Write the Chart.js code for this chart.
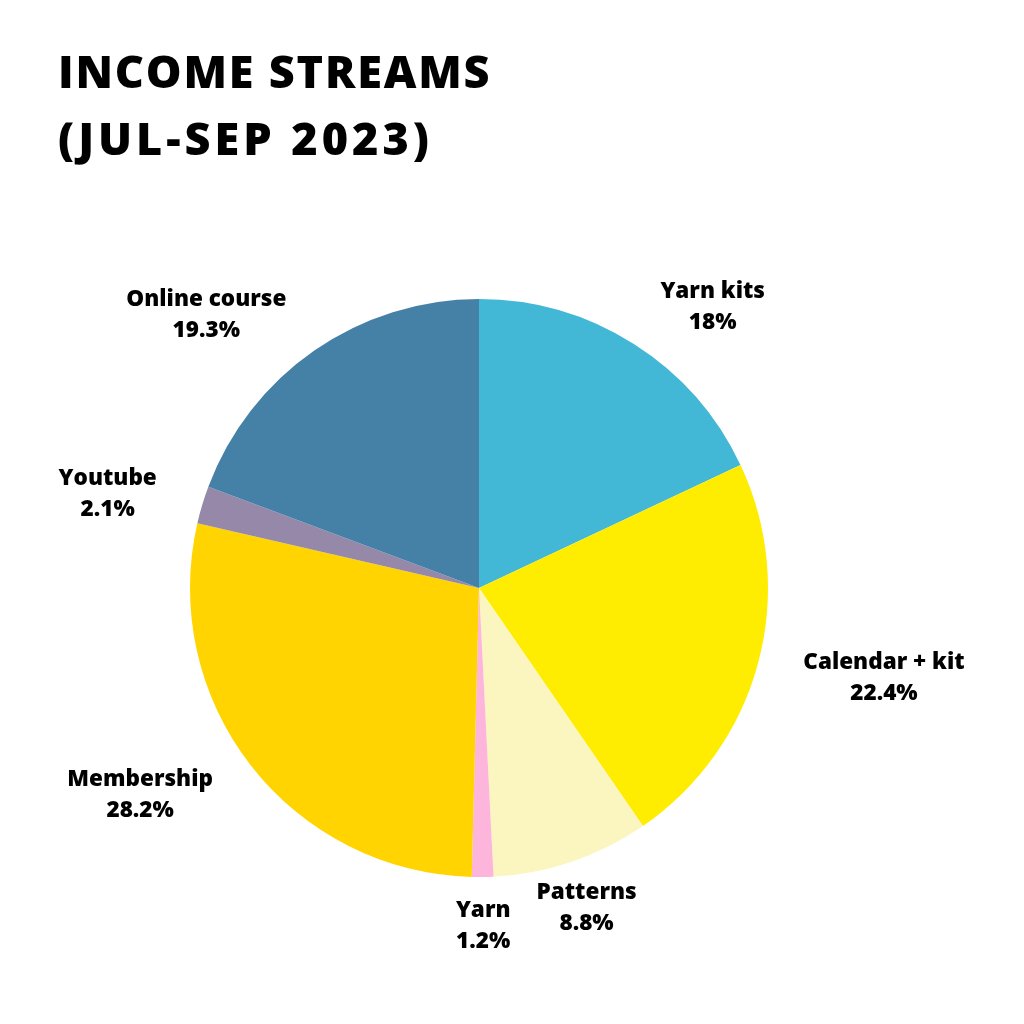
<!DOCTYPE html>
<html>
<head>
<meta charset="utf-8">
<script src="https://cdn.jsdelivr.net/npm/chart.js@4.4.0/dist/chart.umd.min.js"></script>
<style>
  html, body { margin: 0; padding: 0; background: #ffffff; }
  #wrap { position: relative; width: 1024px; height: 1024px; }
  #title { position: absolute; left: 58px; top: 37px; font-family: "Open Sans", sans-serif; font-weight: 800;
           font-size: 45px; line-height: 67px; color: #000; }
  #t1 { letter-spacing: 1.8px; }
  #t2 { letter-spacing: 4px; }
  canvas { position: absolute; left: 0; top: 0; }
</style>
</head>
<body>
<div id="wrap">
  <canvas id="c" width="1024" height="1024"></canvas>
  <div id="title"><span id="t1">INCOME STREAMS</span><br><span id="t2">(JUL-SEP 2023)</span></div>
</div>
<script>
const categories = ["Yarn kits", "Calendar + kit", "Patterns", "Yarn", "Membership", "Youtube", "Online course"];
const shares = [18, 22.4, 8.8, 1.2, 28.2, 2.1, 19.3];
const valueLabels = ["18%", "22.4%", "8.8%", "1.2%", "28.2%", "2.1%", "19.3%"];
const sliceColors = ["#42B7D6", "#FEED00", "#FBF5C0", "#FDB5DB", "#FFD400", "#9688A8", "#4581A7"];

// label placement: distance beyond the arc and small nudges (px)
const labelPlace = [
  {r: 1.27, dx: 37, dy: 28},
  {r: 1.43, dx: 6, dy: -18},
  {r: 1.16, dx: 0, dy: 2},
  {r: 1.16, dx: 0, dy: 2},
  {r: 1.37, dx: -26, dy: -36},
  {r: 1.32, dx: -6, dy: 15},
  {r: 1.34, dx: -52, dy: 45}
];

const labelPlugin = {
  id: 'outerLabels',
  afterDatasetsDraw(chart) {
    const ctx = chart.ctx;
    const meta = chart.getDatasetMeta(0);
    ctx.save();
    ctx.fillStyle = '#000';
    ctx.font = '800 22.5px "Open Sans", sans-serif';
    ctx.textAlign = 'center';
    ctx.textBaseline = 'middle';
    meta.data.forEach((arc, i) => {
      const p = arc.getProps(['x', 'y', 'startAngle', 'endAngle', 'outerRadius'], true);
      const mid = (p.startAngle + p.endAngle) / 2;
      const pl = labelPlace[i];
      const d = p.outerRadius * pl.r;
      const x = p.x + Math.cos(mid) * d + pl.dx;
      const y = p.y + Math.sin(mid) * d + pl.dy;
      ctx.fillText(categories[i], x, y - 15);
      ctx.fillText(valueLabels[i], x, y + 16);
    });
    ctx.restore();
  }
};

new Chart(document.getElementById('c'), {
  type: 'pie',
  data: {
    labels: categories,
    datasets: [{ data: shares, backgroundColor: sliceColors, borderWidth: 0 }]
  },
  options: {
    responsive: false,
    animation: false,
    layout: { padding: { left: 190, right: 256, top: 299, bottom: 147 } },
    plugins: { legend: { display: false }, tooltip: { enabled: false } }
  },
  plugins: [labelPlugin]
});
</script>
</body>
</html>
